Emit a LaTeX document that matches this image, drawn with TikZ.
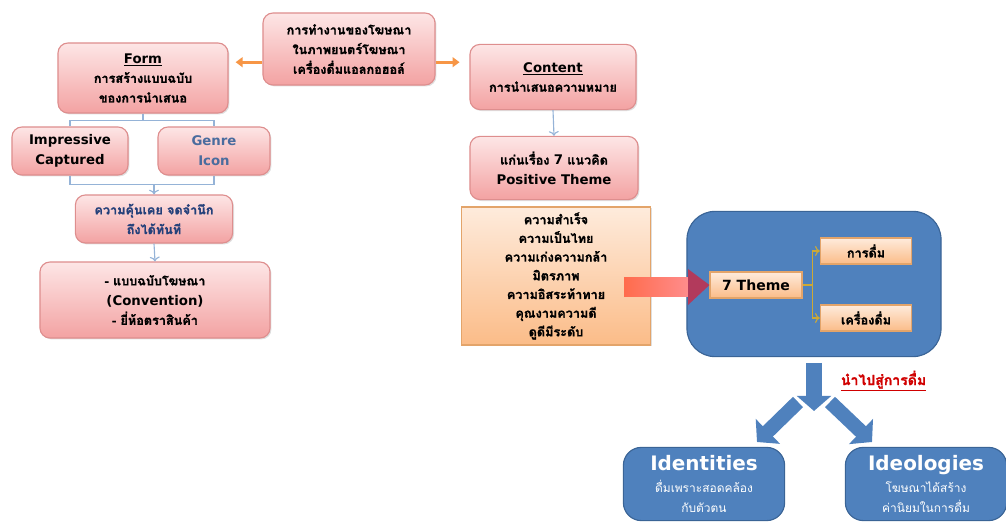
\documentclass[tikz,border=0pt]{standalone}
\usepackage{fontspec}
\setmainfont[Script=Thai,BoldFont={Loma Bold},BoldFeatures={FakeBold=1.3}]{Loma}
\newfontfamily\latinfont[Scale=1.05]{DejaVu Sans}
\newcommand\eng[1]{{\latinfont #1}}
\usetikzlibrary{positioning,arrows.meta,shadows}

\definecolor{pinktop}{HTML}{FDE6E6}
\definecolor{pinkbot}{HTML}{F3A2A2}
\definecolor{pinkedge}{HTML}{DE8E8E}
\definecolor{peachtop}{HTML}{FEEBDC}
\definecolor{peachbot}{HTML}{FBBC88}
\definecolor{peachedge}{HTML}{E3A46A}
\definecolor{linkblue}{HTML}{95B3D7}
\definecolor{arrowor}{HTML}{F79646}
\definecolor{boxblue}{HTML}{4F81BD}
\definecolor{boxblueedge}{HTML}{3A6496}
\definecolor{goldlink}{HTML}{CDA935}
\definecolor{headred}{HTML}{B23A5C}
\definecolor{navytext}{HTML}{24407A}
\definecolor{greytext}{HTML}{4A6C9E}
\definecolor{leadred}{HTML}{D00000}

\tikzset{
  pinkbox/.style={draw=pinkedge, thick, rounded corners=0.25cm,
    top color=pinktop, bottom color=pinkbot, align=center,
    font=\bfseries\fontsize{9}{14}\selectfont,
    drop shadow={opacity=0.25, shadow xshift=1pt, shadow yshift=-1pt}},
  peachbox/.style={draw=peachedge, thick, top color=peachtop, bottom color=peachbot,
    align=center, font=\bfseries\fontsize{9}{13.3}\selectfont,
    drop shadow={opacity=0.25, shadow xshift=1pt, shadow yshift=-1pt}},
  bluebox/.style={draw=boxblueedge, thick, fill=boxblue, text=white, align=center,
    font=\fontsize{8.5}{14}\selectfont},
  link/.style={draw=linkblue, thick},
  orarrow/.style={draw=arrowor, line width=2pt, -{Triangle[length=5pt,width=7pt]}},
  goldarrow/.style={draw=goldlink, thick},
  blockarrow/.style={draw=boxblue, line width=0.4cm, -{Triangle[length=0.38cm,width=0.85cm]}},
}

\begin{document}
\begin{tikzpicture}[x=0.025cm,y=-0.025cm]
  \useasboundingbox (0,0) rectangle (1006,523);

  % top of the tree
  \node[pinkbox, minimum width=4.3cm, minimum height=1.8cm] (work) at (349,49)
    {การทำงานของโฆษณา\\ในภาพยนตร์โฆษณา\\เครื่องดื่มแอลกอฮอล์};
  \node[pinkbox, minimum width=4.25cm, minimum height=1.75cm] (form) at (143,78)
    {\underline{\eng{Form}}\\การสร้างแบบฉบับ\\ของการนำเสนอ};
  \node[pinkbox, minimum width=4.15cm, minimum height=1.63cm] (content) at (553,77)
    {\underline{\eng{Content}}\\การนำเสนอความหมาย};
  \draw[orarrow] ([yshift=-3.3mm]work.west) -- ([yshift=-3.3mm,xshift=5pt]work.west -| form.east);
  \draw[orarrow] ([yshift=-3.3mm]work.east) -- ([yshift=-3.3mm,xshift=-7pt]work.east -| content.west);

  % form side
  \node[pinkbox, minimum width=2.9cm, minimum height=1.2cm] (impress) at (70,151)
    {\eng{Impressive}\\\eng{Captured}};
  \node[pinkbox, minimum width=2.8cm, minimum height=1.2cm, text=greytext] (genre) at (214,151)
    {\eng{Genre}\\\eng{Icon}};
  \draw[link] (form.south) -- ++(0,7) coordinate (fj) -| (impress.north);
  \draw[link] (fj) -| (genre.north);
  \node[pinkbox, minimum width=3.93cm, minimum height=1.2cm, text=navytext] (famil) at (154,219)
    {ความคุ้นเคย จดจำนึก\\ถึงได้ทันที};
  \draw[link] (impress.south) -- ++(0,9) coordinate (ij) -| (genre.south);
  \draw[link,->] (ij -| famil.north) -- (famil.north);
  \node[pinkbox, minimum width=5.75cm, minimum height=1.9cm] (conv) at (155,300)
    {- แบบฉบับโฆษณา\\\eng{(Convention)}\\- ยี่ห้อตราสินค้า};
  \draw[link,->] (famil.south) -- (conv.north);

  % content side
  \node[pinkbox, minimum width=4.2cm, minimum height=1.58cm] (seven) at (554,168)
    {แก่นเรื่อง \eng{7} แนวคิด\\\eng{Positive Theme}};
  \draw[link,->] (content.south) -- (seven.north);
  \node[peachbox, minimum width=4.73cm, minimum height=3.45cm] (list) at (556,276)
    {ความสำเร็จ\\ความเป็นไทย\\ความเก่งความกล้า\\มิตรภาพ\\ความอิสระท้าทาย\\คุณงามความดี\\ดูดีมีระดับ};

  % blue panel
  \node[bluebox, rounded corners=0.7cm, minimum width=6.35cm, minimum height=3.63cm] (panel) at (814,284) {};
  \node[peachbox, minimum width=2.3cm, minimum height=0.65cm, font=\bfseries\fontsize{9.5}{12}\selectfont] (theme) at (756,285) {\eng{7 Theme}};
  \node[peachbox, minimum width=2.28cm, minimum height=0.65cm] (drink) at (866,251) {การดื่ม};
  \node[peachbox, minimum width=2.28cm, minimum height=0.65cm] (bev) at (866,318) {เครื่องดื่ม};
  \draw[goldarrow] (theme.east) -- ++(10,0) coordinate (tj);
  \draw[goldarrow,->] (tj) |- (drink.west);
  \draw[goldarrow,->] (tj) |- (bev.west);

  % big arrow from list to theme
  \coordinate (bs) at (624,287);
  \coordinate (bh) at (688,287);
  \shade[left color=red!65!orange!70, right color=red!45] ([yshift=-0.24cm]bs) rectangle ([yshift=0.24cm]bh);
  \fill[headred] ([yshift=-0.45cm]bh) -- (theme.west) -- ([yshift=0.45cm]bh) -- cycle;

  % leads to drinking
  \coordinate (downtip) at (814,411);
  \coordinate (lstart) at (798,402);
  \coordinate (lefttip) at (757,442);
  \coordinate (rstart) at (830,402);
  \coordinate (righttip) at (872,442);
  \draw[blockarrow] ([yshift=-4pt]panel.south) -- (downtip);
  \draw[blockarrow, line width=0.36cm] (lstart) -- (lefttip);
  \draw[blockarrow, line width=0.36cm] (rstart) -- (righttip);
  \node[text=leadred, font=\bfseries\fontsize{10}{12}\selectfont, anchor=west] (lead) at (836,381)
    {\underline{นำไปสู่การดื่ม}};

  \node[bluebox, rounded corners=0.45cm, minimum width=4.03cm, minimum height=1.83cm] (ident) at (704,484)
    {{\latinfont\bfseries\fontsize{13.5}{17}\selectfont Identities}\\[2pt]
     ดื่มเพราะสอดคล้อง\\กับตัวตน};
  \node[bluebox, rounded corners=0.45cm, minimum width=4.03cm, minimum height=1.83cm] (ideo) at (926,484)
    {{\latinfont\bfseries\fontsize{13.5}{17}\selectfont Ideologies}\\[2pt]
     โฆษณาได้สร้าง\\ค่านิยมในการดื่ม};
\end{tikzpicture}
\end{document}
